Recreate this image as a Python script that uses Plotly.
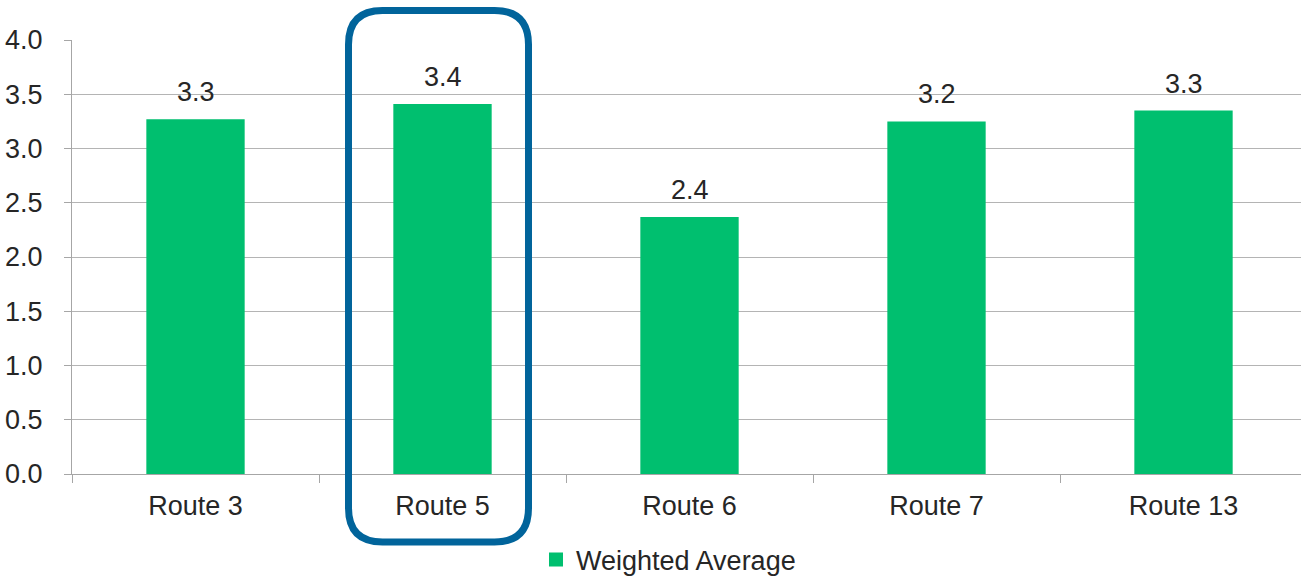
import plotly.graph_objects as go

# Weighted average score per route
routes = ["Route 3", "Route 5", "Route 6", "Route 7", "Route 13"]
weighted_avg = [3.26, 3.40, 2.36, 3.24, 3.34]
y_ticks = [0.0, 0.5, 1.0, 1.5, 2.0, 2.5, 3.0, 3.5, 4.0]
highlight_route = "Route 5"

W, H = 1301, 576
M_L, M_R, M_T, M_B = 72, 0, 40, 102
PLOT_W = W - M_L - M_R
PLOT_H = H - M_T - M_B
CAT_PX = 247.0  # pixel width of one category slot

FONT = "Liberation Sans, Arial, sans-serif"
FS = 27
TEXT = "#262626"
GREEN = "#00BF6F"
BLUE = "#01649B"
GRID = "#B4B4B4"

x_range = [-0.5, -0.5 + PLOT_W / CAT_PX]


def px_to_paper(px, py):
    return (px - M_L) / PLOT_W, (H - M_B - py) / PLOT_H


def rounded_box(left, top, right, bottom, r):
    """SVG path (paper coords) for a rounded rectangle given in pixels."""
    def p(x, y):
        a, b = px_to_paper(x, y)
        return f"{a:.5f},{b:.5f}"

    return " ".join([
        f"M{p(left + r, top)}",
        f"L{p(right - r, top)}",
        f"Q{p(right, top)} {p(right, top + r)}",
        f"L{p(right, bottom - r)}",
        f"Q{p(right, bottom)} {p(right - r, bottom)}",
        f"L{p(left + r, bottom)}",
        f"Q{p(left, bottom)} {p(left, bottom - r)}",
        f"L{p(left, top + r)}",
        f"Q{p(left, top)} {p(left + r, top)}",
        "Z",
    ])


fig = go.Figure()
fig.add_trace(go.Bar(
    x=routes,
    y=weighted_avg,
    name="Weighted Average",
    marker=dict(color=GREEN, line=dict(width=2, color=GREEN)),
    cliponaxis=False,
    showlegend=True,
    hovertemplate="%{x}: %{y:.2f}<extra></extra>",
))

# value labels above each bar
value_labels = [
    dict(
        x=r, y=v, xref="x", yref="y",
        text=f"{v:.1f}",
        showarrow=False,
        yanchor="bottom",
        yshift=11,
        font=dict(family=FONT, size=FS, color=TEXT),
    )
    for r, v in zip(routes, weighted_avg)
]

# highlight frame around the selected route
hi = routes.index(highlight_route)
center_px = M_L + (hi - x_range[0]) * CAT_PX
frame = rounded_box(center_px - 94, 10.5, center_px + 86, 542, 34)

fig.update_layout(
    width=W,
    height=H,
    margin=dict(l=M_L, r=M_R, t=M_T, b=M_B, pad=0, autoexpand=False),
    paper_bgcolor="white",
    plot_bgcolor="white",
    font=dict(family=FONT, size=FS, color=TEXT),
    bargap=0.61,
    xaxis=dict(
        range=x_range,
        showgrid=False,
        showline=True,
        linecolor="#A6A6A6",
        linewidth=1,
        ticks="outside",
        tickson="boundaries",
        ticklen=8,
        tickcolor="#A6A6A6",
        tickfont=dict(family=FONT, size=FS, color=TEXT),
        ticklabelstandoff=8,
        automargin=False,
        fixedrange=True,
    ),
    yaxis=dict(
        range=[0, 4],
        tickvals=y_ticks,
        tickformat=".1f",
        showgrid=True,
        gridcolor=GRID,
        gridwidth=1,
        zeroline=False,
        showline=True,
        linecolor="#A6A6A6",
        linewidth=1,
        ticks="outside",
        ticklen=7,
        tickcolor="#A6A6A6",
        tickfont=dict(family=FONT, size=FS, color=TEXT),
        ticklabelstandoff=16,
        automargin=False,
        fixedrange=True,
    ),
    legend=dict(
        orientation="h",
        xref="container",
        yref="container",
        x=536 / W,
        xanchor="left",
        y=(H - 560) / H,
        yanchor="middle",
        font=dict(family=FONT, size=FS, color=TEXT),
        bgcolor="rgba(0,0,0,0)",
    ),
    annotations=value_labels,
    shapes=[dict(
        type="path",
        xref="paper",
        yref="paper",
        path=frame,
        line=dict(color=BLUE, width=7),
        fillcolor="rgba(0,0,0,0)",
        layer="above",
    )],
)

fig.write_html("out.html", config={"displayModeBar": False})
